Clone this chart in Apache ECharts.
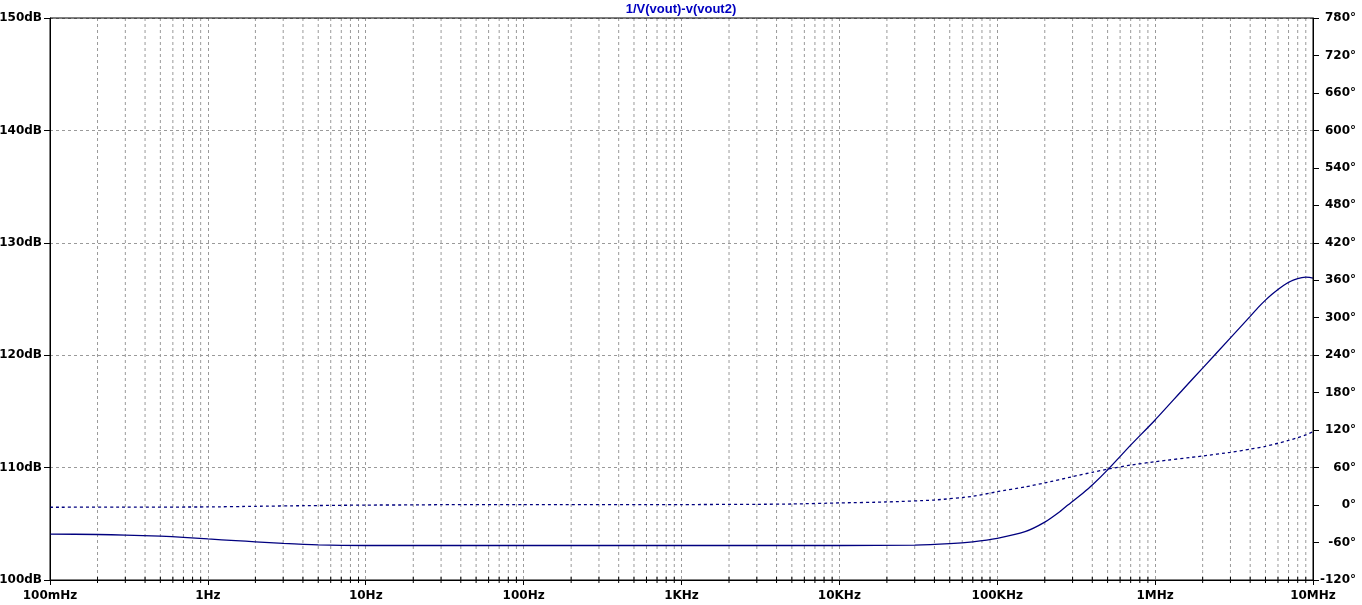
<!DOCTYPE html>
<html>
<head>
<meta charset="utf-8">
<script src="https://cdn.jsdelivr.net/npm/echarts@6/dist/echarts.min.js"></script>
<style>html,body{margin:0;padding:0;background:#fff;}#c{width:1362px;height:605px;}</style>
</head>
<body>
<div id="c"></div>
<script>
// ---- data ----
const titleText = '1/V(vout)-v(vout2)';
const magFreq = [0.1,0.2,0.3,0.5,0.7,1,1.5,2,3,5,10,100,1e3,1e4,3e4,5e4,7e4,1e5,1.5e5,2e5,2.5e5,2.8e5,3.5e5,4e5,5e5,7e5,1e6,1.5e6,2e6,3e6,4e6,4.5e6,5e6,5.5e6,6e6,6.5e6,7e6,7.5e6,8e6,8.5e6,9e6,9.5e6,1e7];
const magDb   = [104.09,104.05,104.0,103.9,103.8,103.65,103.5,103.4,103.25,103.12,103.07,103.07,103.07,103.07,103.1,103.23,103.4,103.71,104.3,105.15,106.1,106.67,107.75,108.45,109.8,112.0,114.24,116.95,118.85,121.54,123.45,124.25,124.9,125.42,125.85,126.2,126.48,126.68,126.82,126.91,126.95,126.93,126.86];
const phFreq  = [0.1,0.3,1,2,4,10,20,30,100,1e3,3e3,5e3,1e4,2e4,4e4,7e4,1e5,1.5e5,2e5,3e5,4e5,5e5,7e5,1e6,2e6,3e6,4e6,5e6,6e6,7e6,8e6,9e6,1e7];
const phDeg   = [-3.5,-3.3,-3,-2,-1,0,0.2,0.6,0.6,0.8,1.2,1.7,3.4,5,8.1,14,21.4,29,35.5,45.5,52.5,57.5,64,69.5,78.6,84.5,89.5,94,99,103.5,108,112.5,117.5];
const decadeLabels = {'-1':'100mHz','0':'1Hz','1':'10Hz','2':'100Hz','3':'1KHz','4':'10KHz','5':'100KHz','6':'1MHz','7':'10MHz'};
const minorFreq = [];
for (let e = -1; e < 7; e++) for (let m = 2; m <= 9; m++) minorFreq.push(m * Math.pow(10, e));

const lineColor = '#00007f';
const font = 'DejaVu Sans';
const gridColor = '#9a9a9a';
const chart = echarts.init(document.getElementById('c'));
chart.setOption({
  animation: false,
  backgroundColor: '#fff',
  title: { text: titleText, left: 'center', top: -2,
    textStyle: { color: '#0000c0', fontSize: 13, fontWeight: 'bold', fontFamily: 'Liberation Sans' } },
  grid: { left: 50, right: 49, top: 18, bottom: 25, containLabel: false, outerBoundsMode: 'none' },
  xAxis: {
    type: 'log', logBase: 10, min: 0.1, max: 1e7,
    axisLine: { show: true, onZero: false, lineStyle: { color: '#000', width: 1 } },
    axisTick: { show: true, length: 5, lineStyle: { color: '#000' } },
    axisLabel: { color: '#000', fontSize: 12, fontWeight: 'bold', fontFamily: font, margin: 10,
      formatter: v => decadeLabels[String(Math.round(Math.log10(v)))] || '' },
    splitLine: { show: true, lineStyle: { color: gridColor, type: [3,3], width: 1 } }
  },
  yAxis: [
    { type: 'value', min: 100, max: 150, interval: 10, position: 'left',
      axisLine: { show: true, onZero: false, lineStyle: { color: '#000' } },
      axisTick: { show: true, length: 6, lineStyle: { color: '#000' } },
      axisLabel: { color: '#000', fontSize: 12, fontWeight: 'bold', fontFamily: font, margin: 8,
        formatter: '{value}dB' },
      splitLine: { show: true, lineStyle: { color: gridColor, type: [3,3], width: 1 } } },
    { type: 'value', min: -120, max: 780, interval: 60, position: 'right',
      axisLine: { show: true, onZero: false, lineStyle: { color: '#000' } },
      axisTick: { show: true, length: 6, lineStyle: { color: '#000' } },
      axisLabel: { color: '#000', fontSize: 12, fontWeight: 'bold', fontFamily: font, margin: 43, align: 'right',
        formatter: '{value}°' },
      splitLine: { show: false } }
  ],
  series: [
    { type: 'custom', xAxisIndex: 0, yAxisIndex: 0, silent: true, z: 1,
      data: minorFreq.map(f => [f]),
      renderItem: (params, api) => {
        const p = api.coord([api.value(0), 100]);
        const cs = params.coordSys;
        return { type: 'group', children: [
          { type: 'line', shape: { x1: p[0], y1: cs.y, x2: p[0], y2: cs.y + cs.height },
            style: { stroke: gridColor, lineWidth: 1, lineDash: [3,3] } },
          { type: 'line', shape: { x1: p[0], y1: cs.y + cs.height - 3, x2: p[0], y2: cs.y + cs.height + 3 },
            style: { stroke: '#000', lineWidth: 1 } }
        ] };
      } },
    { type: 'line', name: 'mag', xAxisIndex: 0, yAxisIndex: 0, smooth: 0.2, symbol: 'none', z: 5,
      data: magFreq.map((f, i) => [f, magDb[i]]),
      lineStyle: { color: lineColor, width: 1.3 } },
    { type: 'line', name: 'phase', xAxisIndex: 0, yAxisIndex: 1, smooth: 0.2, symbol: 'none', z: 5,
      data: phFreq.map((f, i) => [f, phDeg[i]]),
      lineStyle: { color: lineColor, width: 1.3, type: [3,3] } }
  ]
});
chart.setOption({ graphic: [{ type: 'rect', shape: { x: 50, y: 18, width: 1263, height: 562 },
  style: { fill: 'none', stroke: '#000', lineWidth: 1 }, silent: true, z: 10 }] });
</script>
</body>
</html>
